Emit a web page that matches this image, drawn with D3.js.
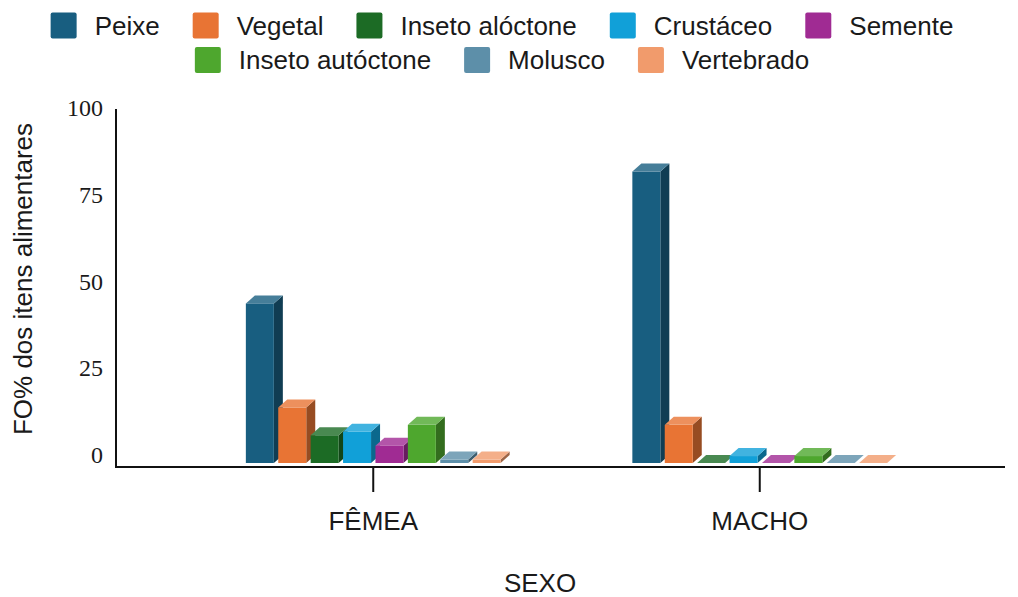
<!DOCTYPE html>
<html>
<head>
<meta charset="utf-8">
<script src="https://cdn.jsdelivr.net/npm/d3@7"></script>
<style>
  html, body { margin: 0; padding: 0; background: #fff; }
  svg { display: block; }
</style>
</head>
<body>
<svg id="chart" width="1018" height="597"></svg>
<script>
// Sex groups on the x axis
const categories = ["FÊMEA", "MACHO"];
// Food item series (legend order)
const series = ["Peixe", "Vegetal", "Inseto alóctone", "Crustáceo", "Semente", "Inseto autóctone", "Molusco", "Vertebrado"];
const colors = ["#185e80", "#e87434", "#1c6b25", "#11a0d8", "#a02b93", "#4ea72e", "#5d8fa9", "#f19b6c"];
// FO% per series, one value per sex (FÊMEA, MACHO)
const peixe = [46, 84];
const vegetal = [16, 11];
const insetoAloctone = [8, 0];
const crustaceo = [9, 2];
const semente = [5, 0];
const insetoAutoctone = [11, 2];
const molusco = [1, 0];
const vertebrado = [1, 0];
const yTicks = [0, 25, 50, 75, 100];

const values = [peixe, vegetal, insetoAloctone, crustaceo, semente, insetoAutoctone, molusco, vertebrado];

const svg = d3.select("#chart");
const depthX = 9, depthY = 8;
const sans = "Liberation Sans, Arial, sans-serif";

// y scale for the back plane (axis labels); bars are drawn on the front plane
const y = d3.scaleLinear().domain([0, 100]).range([455, 108]);
const yFront = v => y(v) + depthY;

const x0 = d3.scaleBand().domain(categories).range([180, 953]).padding(0);
const x1 = d3.scaleBand().domain(series).range([-129.6, 129.6]).paddingInner(0.136).paddingOuter(0.068);

// Axes lines
const axisY = 467, axisLeft = 116, axisRight = 1005;
svg.append("line").attr("x1", axisLeft).attr("x2", axisLeft).attr("y1", 109).attr("y2", axisY + 1)
  .attr("stroke", "#111").attr("stroke-width", 2);
svg.append("line").attr("x1", axisLeft).attr("x2", axisRight).attr("y1", axisY).attr("y2", axisY)
  .attr("stroke", "#111").attr("stroke-width", 2);

// Category ticks and labels
const xg = svg.append("g");
categories.forEach(c => {
  const cx = x0(c) + x0.bandwidth() / 2;
  xg.append("line").attr("x1", cx).attr("x2", cx).attr("y1", axisY).attr("y2", 492)
    .attr("stroke", "#111").attr("stroke-width", 2);
  xg.append("text").attr("x", cx).attr("y", 521).attr("text-anchor", "middle")
    .attr("dominant-baseline", "central")
    .style("font-family", sans).style("font-size", "26px").attr("fill", "#1a1a1a")
    .text(c);
});

// Y tick labels
svg.append("g").selectAll("text").data(yTicks).join("text")
  .attr("x", 103).attr("y", d => y(d)).attr("text-anchor", "end").attr("dominant-baseline", "central")
  .style("font-family", "Liberation Serif, Times New Roman, serif").style("font-size", "24px").attr("fill", "#1a1a1a")
  .text(d => d);

// Axis titles
svg.append("text").attr("x", 540).attr("y", 583).attr("text-anchor", "middle").attr("dominant-baseline", "central")
  .style("font-family", sans).style("font-size", "26px").attr("fill", "#1a1a1a")
  .text("SEXO");
svg.append("text").attr("transform", "translate(23,279) rotate(-90)").attr("text-anchor", "middle")
  .attr("dominant-baseline", "central")
  .style("font-family", sans).style("font-size", "26px").attr("fill", "#1a1a1a")
  .text("FO% dos itens alimentares");

// 3D bars: front, top and right side faces
const bars = svg.append("g");
categories.forEach((c, ci) => {
  const cx = x0(c) + x0.bandwidth() / 2;
  series.forEach((s, si) => {
    const v = values[si][ci];
    const col = colors[si];
    const xl = cx + x1(s), w = x1.bandwidth();
    const yt = yFront(v), yb = yFront(0);
    const top = d3.interpolateRgb(col, "#ffffff")(0.2);
    const side = d3.color(col).darker(1.2).formatHex();
    const g = bars.append("g");
    if (yb - yt > 0) {
      g.append("path").attr("d", `M${xl + w},${yt}L${xl + w + depthX},${yt - depthY}L${xl + w + depthX},${yb - depthY}L${xl + w},${yb}Z`).attr("fill", side);
      g.append("rect").attr("x", xl).attr("y", yt).attr("width", w).attr("height", yb - yt).attr("fill", col);
    }
    g.append("path").attr("d", `M${xl},${yt}L${xl + depthX},${yt - depthY}L${xl + w + depthX},${yt - depthY}L${xl + w},${yt}Z`).attr("fill", top);
  });
});

// Legend: two centred rows
const legendRows = [series.slice(0, 5), series.slice(5)];
const rowY = [25.5, 60];
const sw = 26, gapText = 18, gapItem = 33;
legendRows.forEach((row, ri) => {
  const g = svg.append("g");
  let xPos = 0;
  row.forEach(s => {
    const si = series.indexOf(s);
    const item = g.append("g").attr("transform", `translate(${xPos},0)`);
    item.append("rect").attr("x", 0).attr("y", rowY[ri] - sw / 2).attr("width", sw).attr("height", sw)
      .attr("rx", 2).attr("fill", colors[si]);
    const t = item.append("text").attr("x", sw + gapText).attr("y", rowY[ri]).attr("dominant-baseline", "central")
      .style("font-family", sans).style("font-size", "26px").attr("fill", "#1a1a1a")
      .text(s);
    xPos += sw + gapText + t.node().getComputedTextLength() + gapItem;
  });
  const total = xPos - gapItem;
  g.attr("transform", `translate(${502 - total / 2},0)`);
});
</script>
</body>
</html>
